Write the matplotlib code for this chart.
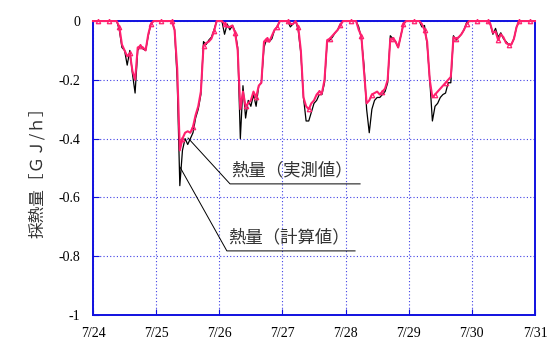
"""Hourly heat extraction, measured vs calculated, 7/24 - 7/31."""

import matplotlib

matplotlib.use("Agg")

import matplotlib.pyplot as plt
import numpy as np

plt.rcParams["font.family"] = ["Liberation Serif", "Noto Sans CJK JP"]

DAY_LABELS = ["7/24", "7/25", "7/26", "7/27", "7/28", "7/29", "7/30", "7/31"]
Y_TICKS = [0, -0.2, -0.4, -0.6, -0.8, -1]
Y_LABELS = ["0", "-0.2", "-0.4", "-0.6", "-0.8", "-1"]

# hourly values, hour 0 = 7/24 0:00
measured = [
    0, 0, 0, 0, 0, 0, 0, 0, 0, 0,
    -0.02, -0.08, -0.10, -0.12, -0.11, -0.17, -0.20, -0.09, -0.085, -0.09,
    -0.10, -0.045, -0.01, 0, 0, 0, 0, 0, 0, 0,
    0, -0.03, -0.16, -0.44, -0.40, -0.38, -0.375, -0.38, -0.36, -0.32,
    -0.29, -0.24, -0.085, -0.075, -0.07, -0.06, -0.035, 0, 0, 0,
    -0.01, -0.02, -0.02, -0.015, -0.04, -0.10, -0.30, -0.24, -0.29, -0.28,
    -0.27, -0.24, -0.26, -0.22, -0.21, -0.07, -0.06, -0.07, -0.05, -0.03,
    -0.02, 0, 0, 0, 0, -0.01, -0.01, 0, -0.02, -0.10,
    -0.26, -0.29, -0.30, -0.28, -0.27, -0.25, -0.24, -0.245, -0.20, -0.065,
    -0.06, -0.05, -0.04, -0.03, -0.015, 0, 0, 0, 0, 0,
    0, -0.03, -0.05, -0.17, -0.28, -0.27, -0.25, -0.245, -0.24, -0.25,
    -0.24, -0.23, -0.20, -0.06, -0.06, -0.07, -0.09, -0.05, -0.01, 0,
    0, 0, 0, 0, 0, -0.01, -0.03, -0.07, -0.20, -0.26,
    -0.25, -0.24, -0.23, -0.22, -0.21, -0.20, -0.19, -0.055, -0.06, -0.055,
    -0.045, -0.03, -0.01, 0, 0, 0, 0, 0, 0, 0,
    0, -0.01, -0.04, -0.035, -0.065, -0.045, -0.055, -0.075, -0.08, -0.08,
    -0.06, -0.02, 0, 0, 0, 0, 0, 0, 0,
]
calculated = [
    0, 0, 0, 0, 0, 0, 0, 0, 0, 0,
    -0.03, -0.09, -0.10, -0.15, -0.10, -0.18, -0.245, -0.10, -0.085, -0.095,
    -0.10, -0.05, -0.01, 0, 0, 0, 0, 0, 0, 0,
    0, -0.03, -0.20, -0.56, -0.44, -0.40, -0.42, -0.40, -0.38, -0.33,
    -0.30, -0.25, -0.07, -0.08, -0.065, -0.055, -0.03, 0, 0, 0,
    -0.045, -0.01, -0.03, -0.015, -0.035, -0.09, -0.40, -0.22, -0.33, -0.27,
    -0.29, -0.25, -0.29, -0.22, -0.21, -0.09, -0.06, -0.07, -0.06, -0.03,
    -0.02, 0, 0, 0, 0, -0.02, -0.01, 0, -0.03, -0.11,
    -0.26, -0.34, -0.34, -0.31, -0.28, -0.27, -0.25, -0.25, -0.21, -0.07,
    -0.065, -0.055, -0.04, -0.03, -0.01, 0, 0, 0, 0, 0,
    0, -0.02, -0.06, -0.15, -0.30, -0.38, -0.30, -0.27, -0.26, -0.26,
    -0.25, -0.24, -0.21, -0.05, -0.06, -0.07, -0.09, -0.05, -0.01, 0,
    0, 0, 0, 0, 0, -0.02, -0.015, -0.08, -0.20, -0.34,
    -0.29, -0.28, -0.26, -0.25, -0.245, -0.21, -0.21, -0.05, -0.065, -0.055,
    -0.045, -0.03, -0.005, 0, 0, 0, 0, 0, 0, 0,
    0, -0.01, -0.045, -0.025, -0.055, -0.04, -0.06, -0.07, -0.08, -0.08,
    -0.06, -0.02, 0, 0, 0, 0, 0, 0, 0,
]

BLUE = "#1010e0"
PINK = "#ff1f6e"


def main() -> None:
    days = np.arange(len(measured)) / 24.0

    fig = plt.figure(figsize=(5.49, 3.45), dpi=100)
    ax = fig.add_axes([0.1694, 0.087, 0.8051, 0.852])

    ax.plot(days, calculated, color="black", linewidth=0.9, zorder=4, clip_on=False)
    ax.plot(days, measured, color=PINK, linewidth=1.5, marker="^", markersize=3.2,
            markerfacecolor="none", markeredgewidth=0.9, markevery=(2, 4),
            zorder=5, clip_on=False)

    ax.set_xlim(0, 7)
    ax.set_ylim(-1, 0)
    ax.set_xticks(range(len(DAY_LABELS)))
    ax.set_xticklabels(DAY_LABELS)
    ax.set_yticks(Y_TICKS)
    ax.set_yticklabels(Y_LABELS)
    ax.tick_params(direction="in", length=4, color=BLUE, labelsize=10, pad=9)
    ax.grid(True, color=BLUE, linestyle=(0, (1, 2)), linewidth=0.8, alpha=0.8)
    for spine in ax.spines.values():
        spine.set_color(BLUE)
        spine.set_linewidth(1.4)
    ax.set_ylabel("採熱量［ＧＪ/ｈ］", family=["Noto Sans CJK JP"], fontsize=12,
                  labelpad=9, color="#333333")

    # leader-line labels with underline
    for text, xy, corner, right in [
        ("熱量（実測値）", (1.505, -0.398), (2.17, -0.554), 4.23),
        ("熱量（計算値）", (1.378, -0.497), (2.12, -0.782), 4.15),
    ]:
        ax.plot([xy[0], corner[0], right], [xy[1], corner[1], corner[1]],
                color="black", linewidth=0.7, zorder=3)
        ax.text(corner[0] + 0.02, corner[1] + 0.015, text, family=["Noto Sans CJK JP"],
                fontsize=12.5, ha="left", va="bottom", color="#333333", zorder=6)

    fig.savefig("out.png", dpi=100)
    plt.close(fig)


if __name__ == "__main__":
    main()
